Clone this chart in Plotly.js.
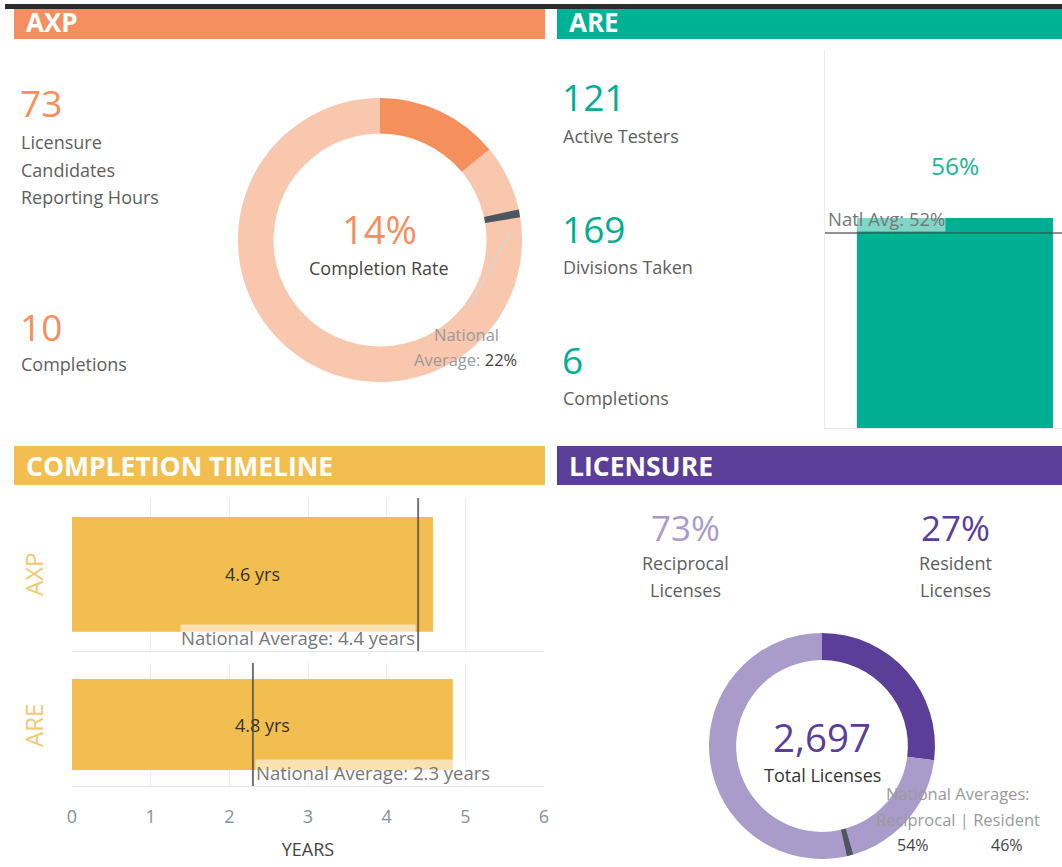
<!DOCTYPE html>
<html>
<head>
<meta charset="utf-8">
<script src="https://cdn.plot.ly/plotly-3.0.1.min.js"></script>
<style>html,body{margin:0;padding:0;background:#fff;}#chart{width:1062px;height:867px;}</style>
</head>
<body>
<div id="chart"></div>
<script>
// ---------- DATA ----------
const axpCandidates = 73;
const axpCompletions = 10;
const axpCompletionRate = 14;      // %
const axpNationalAvg = 22;         // %

const areActiveTesters = 121;
const areDivisionsTaken = 169;
const areCompletions = 6;
const arePassRateCats = ['ARE'];
const arePassRate = [56];          // %
const areNationalAvg = 52;         // %

const timelineCats = ['AXP', 'ARE'];
const timelineYears = [4.59, 4.84];
const timelineNationalAvg = [4.4, 2.3];
const timelineTicks = [0, 1, 2, 3, 4, 5, 6];

const licenseTypes = ['Resident', 'Reciprocal'];
const licenseShares = [27, 73];    // %
const licenseNationalAvg = [46, 54]; // resident, reciprocal
const licenseTotal = 2697;

// ---------- HELPERS ----------
const W = 1062, H = 867;
const FONT = '"Open Sans", "Noto Sans", sans-serif';
const px = x => x / W;
const py = y => 1 - y / H;
const ORANGE = '#F58F5C', ORANGE_L = '#F9C6AE';
const TEAL = '#00AE91';
const YELLOW = '#F2BE4F';
const PURPLE = '#5A3E98', PURPLE_L = '#A99CCB';
const GRAY = '#5e5e5e';
const LBL = 18;
const BIG = 37;

const annotations = [];
function txt(x, y, text, size, color, opts) {
  annotations.push(Object.assign({
    xref: 'paper', yref: 'paper', x: px(x), y: py(y), text: text,
    showarrow: false, xanchor: 'left', yanchor: 'middle',
    font: {family: FONT, size: size, color: color}
  }, opts || {}));
}
const shapes = [];
function rect(x0, y0, x1, y1, color) {
  shapes.push({type: 'rect', xref: 'paper', yref: 'paper', x0: px(x0), x1: px(x1),
    y0: py(y1), y1: py(y0), fillcolor: color, line: {width: 0}, layer: 'below'});
}

// Header bars
rect(5, 4, 1062, 9, '#2b2b2b');
rect(14, 9, 545, 39, '#F58F5F');
rect(557, 9, 1062, 39, '#00B294');
rect(14, 446, 545, 485, '#F2BE4F');
rect(557, 446, 1062, 485, '#5A3E98');
txt(24, 22, '<b>AXP</b>', 26, '#fff');
txt(567, 22, '<b>ARE</b>', 26, '#fff');
txt(24, 466, '<b>COMPLETION TIMELINE</b>', 26.5, '#fff');
txt(567, 466, '<b>LICENSURE</b>', 26.5, '#fff');

// AXP KPIs
txt(18, 103, String(axpCandidates), BIG, ORANGE);
txt(19, 142, 'Licensure', LBL, GRAY);
txt(19, 170, 'Candidates', LBL, GRAY);
txt(19, 197, 'Reporting Hours', LBL, GRAY);
txt(18, 326, String(axpCompletions), BIG, ORANGE);
txt(19, 364, 'Completions', LBL, GRAY);
// AXP donut centre text
txt(379, 229, axpCompletionRate + '%', 38, ORANGE, {xanchor: 'center'});
txt(379, 268, 'Completion Rate', LBL, '#444', {xanchor: 'center'});
txt(466, 334, 'National', 16.5, '#9a9a9a', {xanchor: 'center'});
txt(465, 359, 'Average: <span style="color:#444">' + axpNationalAvg + '%</span>', 16.5, '#9a9a9a', {xanchor: 'center'});
shapes.push({type: 'line', xref: 'paper', yref: 'paper', x0: px(511), y0: py(231), x1: px(469), y1: py(308),
  line: {color: '#d6d6d6', width: 1.5}});

// ARE KPIs
txt(560, 97, String(areActiveTesters), BIG, TEAL);
txt(561, 136, 'Active Testers', LBL, GRAY);
txt(560, 229, String(areDivisionsTaken), BIG, TEAL);
txt(561, 267, 'Divisions Taken', LBL, GRAY);
txt(560, 359, String(areCompletions), BIG, TEAL);
txt(561, 398, 'Completions', LBL, GRAY);
annotations.push({xref: 'x', yref: 'paper', x: 0, y: py(165), text: arePassRate[0] + '%', showarrow: false,
  font: {family: FONT, size: 24.5, color: '#19B496'}, xanchor: 'center', yanchor: 'middle'});
shapes.push({type: 'line', xref: 'x domain', yref: 'y', x0: 0, x1: 1, y0: areNationalAvg, y1: areNationalAvg,
  line: {color: 'rgba(70,70,70,0.6)', width: 2}});
annotations.push({xref: 'x domain', yref: 'y', x: 0.01, y: areNationalAvg, yshift: 1, text: 'Natl Avg: ' + areNationalAvg + '%',
  showarrow: false, xanchor: 'left', yanchor: 'bottom', bgcolor: 'rgba(255,255,255,0.5)', borderpad: 0,
  font: {family: FONT, size: 18.5, color: '#777'}});

// Timeline
['2', '3'].forEach((ax, i) => {
  shapes.push({type: 'line', xref: 'x' + ax, yref: 'y' + ax + ' domain',
    x0: timelineNationalAvg[i], x1: timelineNationalAvg[i], y0: 0, y1: 1,
    line: {color: 'rgba(70,70,70,0.75)', width: 2}});
  annotations.push({xref: 'x' + ax, yref: 'y' + ax + ' domain', x: timelineNationalAvg[i], y: i === 0 ? 0.085 : 0.11,
    xshift: i === 0 ? -2 : 2, text: 'National Average: ' + timelineNationalAvg[i] + ' years',
    showarrow: false, xanchor: i === 0 ? 'right' : 'left', yanchor: 'middle',
    bgcolor: 'rgba(255,255,255,0.55)', borderpad: 0, font: {family: FONT, size: 18.5, color: '#777'}});
});
txt(33, 575, timelineCats[0], 24, '#F4C870', {xanchor: 'center', textangle: -90});
txt(33, 726, timelineCats[1], 24, '#F4C870', {xanchor: 'center', textangle: -90});

// Licensure
txt(685, 527, licenseShares[1] + '%', 35, PURPLE_L, {xanchor: 'center'});
txt(685, 563, 'Reciprocal', LBL, GRAY, {xanchor: 'center'});
txt(685, 590, 'Licenses', LBL, GRAY, {xanchor: 'center'});
txt(955, 527, licenseShares[0] + '%', 35, PURPLE, {xanchor: 'center'});
txt(955, 563, 'Resident', LBL, GRAY, {xanchor: 'center'});
txt(955, 590, 'Licenses', LBL, GRAY, {xanchor: 'center'});
txt(822, 737, licenseTotal.toLocaleString('en-US'), 38.5, PURPLE, {xanchor: 'center'});
txt(822, 775, 'Total Licenses', LBL, '#333', {xanchor: 'center'});
txt(958, 793, 'National Averages:', 16.5, '#9a9a9a', {xanchor: 'center'});
txt(958, 819, 'Reciprocal | Resident', 16.5, '#9a9a9a', {xanchor: 'center'});
txt(913, 845, licenseNationalAvg[1] + '%', 16, '#444', {xanchor: 'center'});
txt(1007, 845, licenseNationalAvg[0] + '%', 16, '#444', {xanchor: 'center'});

// ---------- TRACES ----------
const MARK = 0.9;
const axpDom = {x: [px(238), px(522)], y: [py(382), py(98)]};
const licDom = {x: [px(709), px(935)], y: [py(859), py(633)]};
const traces = [
  {type: 'pie', values: [axpCompletionRate, 100 - axpCompletionRate], labels: ['Completed', 'Not completed'],
   sort: false, direction: 'clockwise', rotation: 0, hole: 0.75, textinfo: 'none', hoverinfo: 'none',
   marker: {colors: [ORANGE, ORANGE_L]}, domain: axpDom, showlegend: false},
  {type: 'pie', values: [axpNationalAvg - MARK / 2, MARK, 100 - axpNationalAvg - MARK / 2], labels: ['a', 'b', 'c'],
   sort: false, direction: 'clockwise', rotation: 0, hole: 0.75, textinfo: 'none', hoverinfo: 'none',
   marker: {colors: ['rgba(0,0,0,0)', '#4d5560', 'rgba(0,0,0,0)']}, domain: axpDom, showlegend: false},
  {type: 'bar', x: [0], y: arePassRate, width: [0.8], marker: {color: TEAL}, hoverinfo: 'none',
   xaxis: 'x', yaxis: 'y', showlegend: false, name: arePassRateCats[0]},
  {type: 'bar', orientation: 'h', y: [timelineCats[0]], x: [timelineYears[0]], width: [0.75],
   marker: {color: YELLOW}, text: [timelineYears[0].toFixed(1) + ' yrs'], textposition: 'inside', insidetextanchor: 'middle',
   textfont: {family: FONT, size: 18, color: '#333'}, xaxis: 'x2', yaxis: 'y2', showlegend: false, hoverinfo: 'none'},
  {type: 'bar', orientation: 'h', y: [timelineCats[1]], x: [timelineYears[1]], width: [0.74],
   marker: {color: YELLOW}, text: [timelineYears[1].toFixed(1) + ' yrs'], textposition: 'inside', insidetextanchor: 'middle',
   textfont: {family: FONT, size: 18, color: '#333'}, xaxis: 'x3', yaxis: 'y3', showlegend: false, hoverinfo: 'none'},
  {type: 'pie', values: licenseShares, labels: licenseTypes,
   sort: false, direction: 'clockwise', rotation: 0, hole: 0.76, textinfo: 'none', hoverinfo: 'none',
   marker: {colors: [PURPLE, PURPLE_L]}, domain: licDom, showlegend: false},
  {type: 'pie', values: [licenseNationalAvg[0] - MARK / 2, MARK, 100 - licenseNationalAvg[0] - MARK / 2], labels: ['a', 'b', 'c'],
   sort: false, direction: 'clockwise', rotation: 0, hole: 0.76, textinfo: 'none', hoverinfo: 'none',
   marker: {colors: ['rgba(0,0,0,0)', '#4d5560', 'rgba(0,0,0,0)']}, domain: licDom, showlegend: false}
];

const tlX = {domain: [px(72), px(544)], range: [0, 6], tickvals: timelineTicks, showgrid: true, gridcolor: '#ececec',
  gridwidth: 1, zeroline: false, showline: true, linecolor: '#e6e6e6', linewidth: 1, ticks: ''};
const layout = {
  width: W, height: H, margin: {l: 0, r: 0, t: 0, b: 0}, paper_bgcolor: '#fff', plot_bgcolor: 'rgba(0,0,0,0)',
  font: {family: FONT, color: GRAY},
  showlegend: false,
  xaxis: {domain: [px(825), 1], range: [-0.53, 0.437], showticklabels: false, showgrid: false, zeroline: false,
    showline: true, linecolor: '#e8e8e8', anchor: 'y', fixedrange: true},
  yaxis: {domain: [py(428), py(50)], range: [0, 100.8], showticklabels: false, showgrid: false, zeroline: false,
    showline: true, linecolor: '#ececec', anchor: 'x', fixedrange: true},
  xaxis2: Object.assign({}, tlX, {anchor: 'y2', showticklabels: false}),
  yaxis2: {domain: [py(651), py(498)], range: [-0.5, 0.5], showticklabels: false, showgrid: false, zeroline: false,
    anchor: 'x2', type: 'category'},
  xaxis3: Object.assign({}, tlX, {anchor: 'y3', showticklabels: true, ticklabelstandoff: 14,
    tickfont: {family: FONT, size: 18, color: '#8a8f98'},
    title: {text: 'YEARS', standoff: 16, font: {family: FONT, size: 18, color: '#444'}}}),
  yaxis3: {domain: [py(786), py(663)], range: [-0.5, 0.5], showticklabels: false, showgrid: false, zeroline: false,
    anchor: 'x3', type: 'category'},
  shapes: shapes,
  annotations: annotations
};
Plotly.newPlot('chart', traces, layout, {displayModeBar: false, staticPlot: true});
</script>
</body>
</html>
